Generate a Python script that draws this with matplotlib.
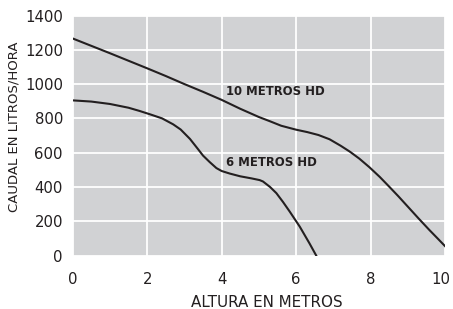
import matplotlib
matplotlib.use("Agg")
import matplotlib.pyplot as plt
import matplotlib.transforms as mtransforms

# Data
x_10m = [0, 0.5, 1, 1.5, 2, 2.5, 3, 3.5, 4, 4.5, 5, 5.3, 5.6, 6, 6.3, 6.6,
         6.9, 7.2, 7.45, 7.7, 7.97, 8.25, 8.5, 8.75, 9.04, 9.3, 9.58, 9.8, 10]
y_10m = [1266, 1223, 1180, 1136, 1092, 1047, 1000, 955, 908, 856, 808, 783, 757, 734, 720, 703,
         678, 640, 605, 565, 515, 458, 402, 345, 276, 214, 149, 100, 55]

x_6m = [0, 0.5, 1, 1.5, 1.8, 2.1, 2.4, 2.7, 2.9, 3.15, 3.35, 3.5, 3.68, 3.86, 4.0, 4.22,
        4.5, 4.8, 5.02, 5.11, 5.3, 5.47, 5.65, 5.83, 6.1, 6.36, 6.54]
y_6m = [905, 898, 884, 862, 843, 822, 800, 765, 735, 680, 625, 583, 545, 510, 493, 478,
        462, 450, 440, 432, 400, 364, 312, 256, 168, 71, 0]

x_ticks = [0, 2, 4, 6, 8, 10]
y_ticks = [0, 200, 400, 600, 800, 1000, 1200, 1400]
labels = ["10 METROS HD", "6 METROS HD"]
label_pos = [(4.11, 956), (4.11, 541)]

TXT = "#231f20"
BG = "#d1d2d4"
plt.rcParams['font.family'] = ['DejaVu Sans']

fig = plt.figure(figsize=(4.53, 3.09), dpi=100)
ax = fig.add_axes([0.1605, 0.1731, 0.8218, 0.7767])
ax.set_facecolor(BG)
for s in ax.spines.values():
    s.set_visible(False)

ax.set_xlim(0, 10)
ax.set_ylim(0, 1400)
ax.set_xticks(x_ticks)
ax.set_yticks(y_ticks)
ax.tick_params(length=0, labelsize=10.7, colors=TXT)
ax.tick_params(axis='x', pad=12)
ax.tick_params(axis='y', pad=7)
ax.grid(True, color='white', linewidth=1.3)
ax.set_axisbelow(True)

ax.plot(x_10m, y_10m, color=TXT, linewidth=1.5, solid_joinstyle='round')
ax.plot(x_6m, y_6m, color=TXT, linewidth=1.5, solid_joinstyle='round')

for t, (px, py) in zip(labels, label_pos):
    ax.text(px, py, t, fontsize=8.4, fontweight='bold', color=TXT,
            ha='left', va='center')

ax.set_xlabel("ALTURA EN METROS", fontsize=10.9, color=TXT, va='center')
ax.xaxis.set_label_coords(0.522, -0.194)
ax.set_ylabel("CAUDAL EN LITROS/HORA", fontsize=9.5, color=TXT, va='center')
ax.yaxis.set_label_coords(-0.159, 0.535)

# keep the last x tick label inside the figure, as in the reference
fig.canvas.draw()
last = ax.get_xticklabels()[-1]
last.set_transform(last.get_transform() +
                   mtransforms.ScaledTranslation(-4 / 100, 0, fig.dpi_scale_trans))

fig.savefig("out.png", dpi=100)
